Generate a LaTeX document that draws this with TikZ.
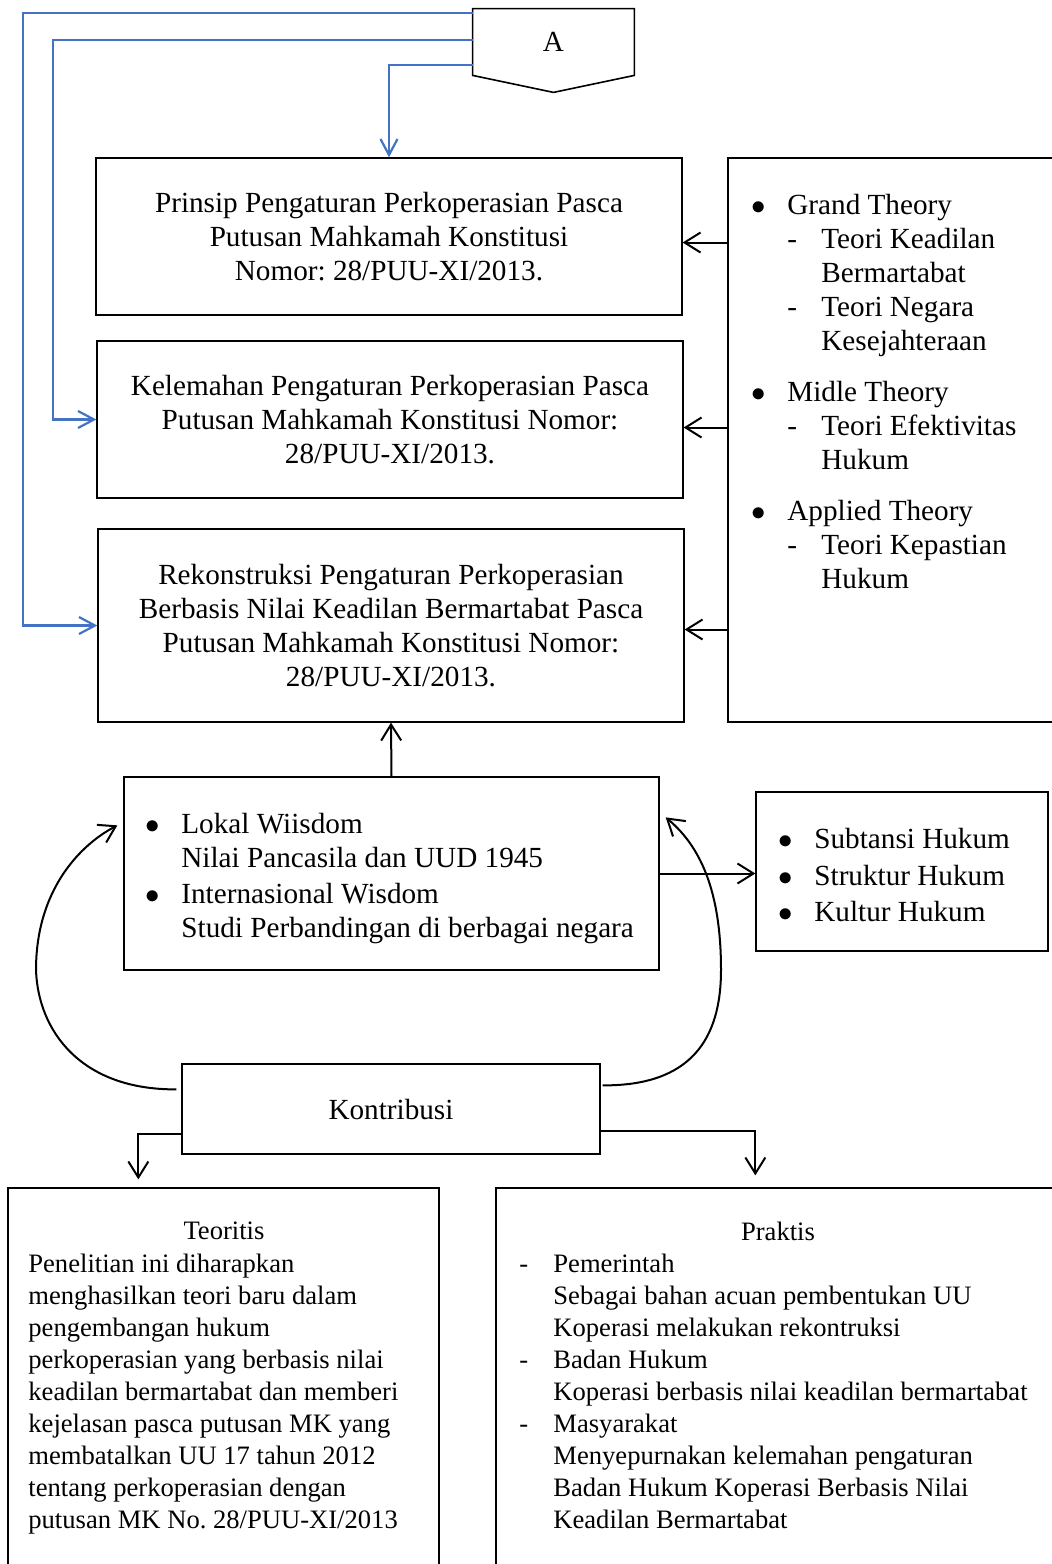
\documentclass[tikz,border=0pt]{standalone}
\usepackage{fontspec}
\setmainfont{Liberation Serif}
\usetikzlibrary{arrows.meta, positioning, calc}
\definecolor{linkblue}{RGB}{68,114,196}
\newcommand{\itm}[2][18pt]{\makebox[#1][l]{#2}}
\newcommand{\bul}{$\bullet$}
\newcommand{\MKnum}{28/PUU-XI/2013}
\frenchspacing

\begin{document}
\begin{tikzpicture}[
    x=0.5pt, y=-0.5pt,
    box/.style={draw, line width=0.65pt, align=center, inner sep=0pt, font=\fontsize{14.6}{17}\selectfont},
    lst/.style={anchor=north west, align=left, inner sep=0pt, font=\fontsize{14.6}{17}\selectfont},
    small/.style={anchor=north west, align=left, inner sep=0pt, font=\fontsize{13.3}{16}\selectfont},
    arr/.style={-{Straight Barb[length=8pt, width=10pt]}, line width=1pt},
    barr/.style={-{Straight Barb[length=8pt, width=8.5pt]}, line width=1.1pt, draw=linkblue}
  ]
  \useasboundingbox (0,0) rectangle (1052,1564);
  \clip (0,0) rectangle (1052,1564);

  % connector A
  \node[minimum width=80.5pt, minimum height=33pt, inner sep=0pt, font=\fontsize{14.6}{17}\selectfont] (A) at (553.5,42) {A};
  \draw[line width=0.8pt] (A.south west) -- (A.north west) -- (A.north east) -- (A.south east) -- ($(A.south)+(0,17)$) -- cycle;

  % three research questions
  \node[box, minimum width=293pt, minimum height=78.5pt] (b1) at (389,236.5)
    {Prinsip Pengaturan Perkoperasian Pasca\\Putusan Mahkamah Konstitusi\\Nomor: \MKnum.};
  \node[box, minimum width=293pt, minimum height=78.5pt] (b2) at (390,419.5)
    {Kelemahan Pengaturan Perkoperasian Pasca\\Putusan Mahkamah Konstitusi Nomor:\\\MKnum.};
  \node[box, minimum width=293pt, minimum height=96.5pt] (b3) at (391,625.5)
    {Rekonstruksi Pengaturan Perkoperasian\\Berbasis Nilai Keadilan Bermartabat Pasca\\Putusan Mahkamah Konstitusi Nomor:\\\MKnum.};

  % theories
  \node[draw, line width=0.65pt, minimum width=171pt, minimum height=282pt] (th) at (899,440) {};
  \node[lst] (thtxt) at (751,194) {%
    \itm[18pt]{\bul}Grand Theory\\
    \hspace*{18pt}\itm[17pt]{-}Teori Keadilan\\
    \hspace*{35pt}Bermartabat\\
    \hspace*{18pt}\itm[17pt]{-}Teori Negara\\
    \hspace*{35pt}Kesejahteraan\\[8.5pt]
    \itm[18pt]{\bul}Midle Theory\\
    \hspace*{18pt}\itm[17pt]{-}Teori Efektivitas\\
    \hspace*{35pt}Hukum\\[8.5pt]
    \itm[18pt]{\bul}Applied Theory\\
    \hspace*{18pt}\itm[17pt]{-}Teori Kepastian\\
    \hspace*{35pt}Hukum};

  % wisdom
  \node[draw, line width=0.65pt, minimum width=267.5pt, minimum height=96.5pt] (wis) at (391.5,873.5) {};
  \node[lst] (wistxt) at (145,813) {%
    \itm{\bul}Lokal Wiisdom\\
    \hspace*{18pt}Nilai Pancasila dan UUD 1945\\[1pt]
    \itm{\bul}Internasional Wisdom\\
    \hspace*{18pt}Studi Perbandingan di berbagai negara};

  \node[draw, line width=0.65pt, minimum width=146pt, minimum height=79.5pt] (sub) at (902,871.5) {};
  \node[lst] (subtxt) at (778,828) {%
    \itm{\bul}Subtansi Hukum\\[1.25pt]
    \itm{\bul}Struktur Hukum\\[1.25pt]
    \itm{\bul}Kultur Hukum};

  \node[box, minimum width=209pt, minimum height=45pt] (ko) at (391,1109) {Kontribusi};

  % contributions
  \node[draw, line width=0.65pt, minimum width=215.5pt, minimum height=196pt] (teo) at (223.5,1384) {};
  \node[font=\fontsize{13.3}{16}\selectfont] (teohead) at (224,1231) {Teoritis};
  \node[small] (teotxt) at (28,1254) {%
    Penelitian ini diharapkan\\
    menghasilkan teori baru dalam\\
    pengembangan hukum\\
    perkoperasian yang berbasis nilai\\
    keadilan bermartabat dan memberi\\
    kejelasan pasca putusan MK yang\\
    membatalkan UU 17 tahun 2012\\
    tentang perkoperasian dengan\\
    putusan MK No. \MKnum};

  \node[draw, line width=0.65pt, minimum width=287pt, minimum height=196pt] (pra) at (783,1384) {};
  \node[font=\fontsize{13.3}{16}\selectfont] (prahead) at (778,1231) {Praktis};
  \node[small] (pratxt) at (519,1254) {%
    \itm[17pt]{-}Pemerintah\\
    \hspace*{17pt}Sebagai bahan acuan pembentukan UU\\
    \hspace*{17pt}Koperasi melakukan rekontruksi\\
    \itm[17pt]{-}Badan Hukum\\
    \hspace*{17pt}Koperasi berbasis nilai keadilan bermartabat\\
    \itm[17pt]{-}Masyarakat\\
    \hspace*{17pt}Menyepurnakan kelemahan pengaturan\\
    \hspace*{17pt}Badan Hukum Koperasi Berbasis Nilai\\
    \hspace*{17pt}Keadilan Bermartabat};

  % links from A
  \draw[barr] ($(A.north west)+(0,4)$) -| ($(b3.west)+(-74,0)$) -- (b3.west);
  \draw[barr] ($(A.north west)+(0,31)$) -| ($(b2.west)+(-43,0)$) -- (b2.west);
  \draw[barr] ($(A.north west)+(0,56)$) -| (b1.north);

  % theories to questions
  \draw[arr] ([yshift=-3pt]th.west |- b1.east) -- ([yshift=-3pt]b1.east);
  \draw[arr] ([yshift=-4pt]th.west |- b2.east) -- ([yshift=-4pt]b2.east);
  \draw[arr] ([yshift=-2pt]th.west |- b3.east) -- ([yshift=-2pt]b3.east);

  \draw[arr] (wis.north) -- (b3.south);
  \draw[arr] (wis.east) -- (wis.east -| sub.west);

  % feedback loops
  \draw[arr] ($(ko.north west)+(-5,26)$) .. controls (80,1090) and (38,1030) .. (36,970)
    .. controls (36,890) and (80,845) .. ($(wis.north west)+(-6,49)$);
  \draw[arr] ($(ko.north east)+(2,22)$) .. controls (690,1086) and (721,1040) .. (721,970)
    .. controls (721,900) and (705,850) .. ($(wis.north east)+(6,41)$);

  \draw[arr] ($(ko.south west)+(0,-21)$) -| ($(teo.north west)+(131,-8)$);
  \draw[arr] ($(ko.south east)+(0,-24)$) -| ($(pra.north west)+(260,-12)$);
\end{tikzpicture}
\end{document}
